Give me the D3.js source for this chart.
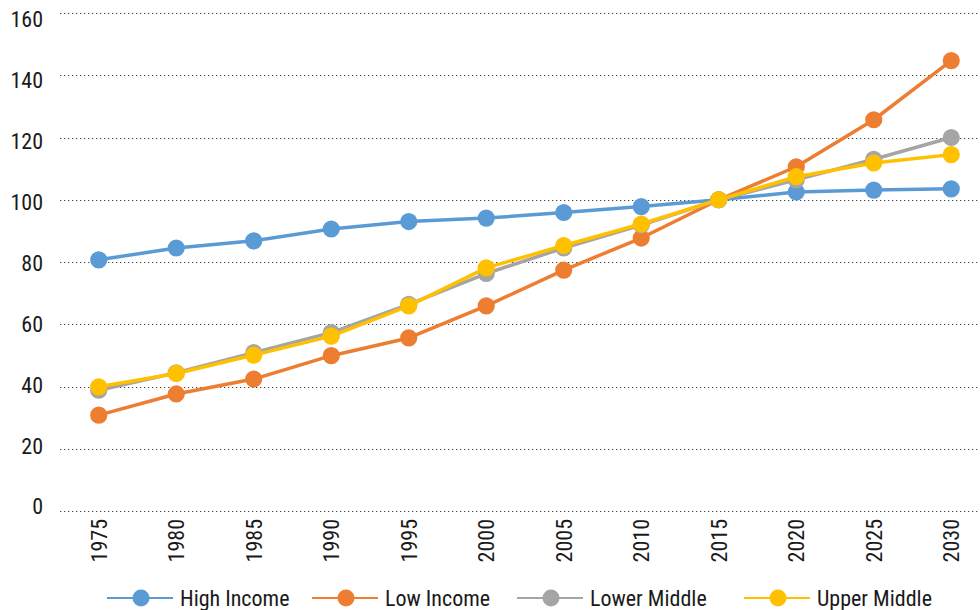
<!DOCTYPE html>
<html>
<head>
<meta charset="utf-8">
<script src="https://cdn.jsdelivr.net/npm/d3@7"></script>
<style>
  html, body { margin: 0; padding: 0; background: #fff; }
  svg text { font-family: "Liberation Sans Narrow", "Roboto Condensed", "Arial Narrow", sans-serif; fill: #1a1a1a; }
</style>
</head>
<body>
<svg id="chart" width="980" height="610"></svg>
<script>
// Index values (2015 = 100) by income group
const years = ["1975", "1980", "1985", "1990", "1995", "2000", "2005", "2010", "2015", "2020", "2025", "2030"];
const highIncome  = [80.7, 84.5, 86.8, 90.6, 93.0, 94.1, 95.9, 97.8, 100, 102.5, 103.1, 103.5];
const lowIncome   = [30.8, 37.6, 42.4, 49.9, 55.6, 65.9, 77.4, 87.7, 100, 110.6, 125.7, 144.7];
const lowerMiddle = [38.8, 44.4, 50.9, 57.3, 66.4, 76.3, 84.5, 91.9, 100, 106.4, 113.0, 120.0];
const upperMiddle = [39.9, 44.2, 50.1, 56.2, 65.9, 78.1, 85.3, 92.2, 100, 107.4, 111.8, 114.5];
const seriesNames = ["High Income", "Low Income", "Lower Middle", "Upper Middle"];
const seriesColors = ["#5B9BD5", "#ED7D31", "#A5A5A5", "#FFC000"];
const yTicks = [0, 20, 40, 60, 80, 100, 120, 140, 160];

const seriesValues = [highIncome, lowIncome, lowerMiddle, upperMiddle];
const series = seriesNames.map((name, i) => ({
  name, color: seriesColors[i],
  points: years.map((y, j) => ({ year: y, value: seriesValues[i][j] }))
}));

const svg = d3.select("#chart");

const x = d3.scaleBand().domain(years).range([60, 990]);
const cx = d => x(d) + x.bandwidth() / 2;
const y = d3.scaleLinear().domain([0, 160]).range([511, 13]);
// Tick labels sit in a slightly tighter column than the gridlines
const yLabel = d3.scaleLinear().domain([0, 160]).range([506, 19]);

// Dotted horizontal gridlines
svg.append("g")
  .selectAll("line")
  .data(yTicks)
  .join("line")
  .attr("x1", 60).attr("x2", 990)
  .attr("y1", d => Math.round(y(d)) + 0.5).attr("y2", d => Math.round(y(d)) + 0.5)
  .attr("stroke", "#444")
  .attr("stroke-width", 1)
  .attr("stroke-dasharray", "1.3,2.7");

// Y axis labels
const yAxis = d3.axisLeft(yLabel).tickValues(yTicks).tickSize(0).tickPadding(0);
const yg = svg.append("g").attr("transform", "translate(43,0)").call(yAxis);
yg.select(".domain").remove();
yg.selectAll("text")
  .attr("font-size", 22)
  .attr("dy", "0.36em");

// X axis labels, rotated
const xAxis = d3.axisBottom(x).tickSize(0).tickPadding(0);
const xg = svg.append("g").attr("transform", "translate(0,519)").call(xAxis);
xg.select(".domain").remove();
xg.selectAll("text")
  .attr("font-size", 22)
  .attr("text-anchor", "end")
  .attr("transform", "rotate(-90)")
  .attr("x", 0)
  .attr("y", 0)
  .attr("dy", "0.36em");

// Lines and markers
const line = d3.line().x(d => cx(d.year)).y(d => y(d.value));

const sg = svg.append("g")
  .selectAll("g")
  .data(series)
  .join("g");

sg.append("path")
  .attr("d", d => line(d.points))
  .attr("fill", "none")
  .attr("stroke", d => d.color)
  .attr("stroke-width", 3.5)
  .attr("stroke-linejoin", "round");

sg.selectAll("circle")
  .data(d => d.points.map(p => ({ ...p, color: d.color })))
  .join("circle")
  .attr("cx", d => cx(d.year))
  .attr("cy", d => y(d.value))
  .attr("r", 8.6)
  .attr("fill", d => d.color);

// Legend
const legendX = [107, 312, 517, 744];
const lg = svg.append("g")
  .selectAll("g")
  .data(series)
  .join("g")
  .attr("transform", (d, i) => `translate(${legendX[i]},598)`);

lg.append("line")
  .attr("x1", 0).attr("x2", 66)
  .attr("stroke", d => d.color)
  .attr("stroke-width", 2.2);
lg.append("circle")
  .attr("cx", 34).attr("r", 8.5)
  .attr("fill", d => d.color);
lg.append("text")
  .attr("x", 73)
  .attr("dy", "0.36em")
  .attr("font-size", 22)
  .text(d => d.name);
</script>
</body>
</html>
